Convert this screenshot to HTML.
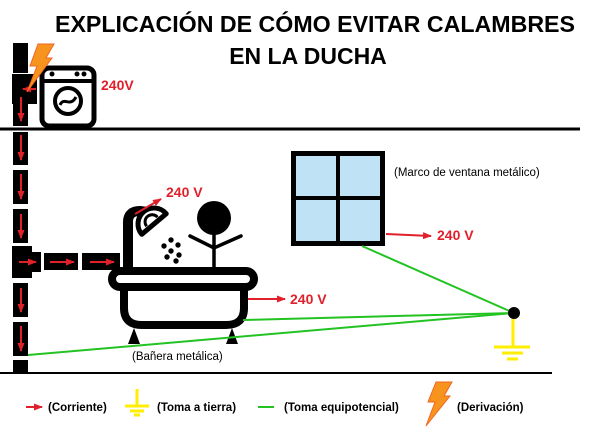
<!DOCTYPE html>
<html><head><meta charset="utf-8"><style>
html,body{margin:0;padding:0;background:#fff;}
svg{display:block;font-family:"Liberation Sans",sans-serif;}
</style></head><body>
<svg width="600" height="428" viewBox="0 0 600 428" xmlns="http://www.w3.org/2000/svg">
<defs>
<marker id="ah" markerWidth="9" markerHeight="7" refX="8" refY="3.5" orient="auto" markerUnits="userSpaceOnUse"><path d="M0,0 L9,3.5 L0,7 Z" fill="#e0202a"/></marker>
</defs>
<text x="315" y="32" text-anchor="middle" font-size="23" font-weight="bold" textLength="520" lengthAdjust="spacingAndGlyphs">EXPLICACIÓN DE CÓMO EVITAR CALAMBRES</text>
<text x="308" y="64" text-anchor="middle" font-size="23" font-weight="bold">EN LA DUCHA</text>

<line x1="0" y1="129" x2="580" y2="129" stroke="#000" stroke-width="3"/>
<line x1="0" y1="373" x2="552" y2="373" stroke="#000" stroke-width="2"/>

<g fill="#000">
<rect x="13" y="43" width="15" height="30"/>
<rect x="12" y="74" width="25" height="30"/>
<rect x="13" y="104" width="15" height="22"/>
<rect x="13" y="132" width="15" height="33"/>
<rect x="13" y="170" width="15" height="34"/>
<rect x="13" y="209" width="15" height="34"/>
<rect x="12" y="246" width="20" height="32"/>
<rect x="30" y="252" width="11" height="20"/>
<rect x="44" y="253" width="34" height="17"/>
<rect x="82" y="253" width="38" height="17"/>
<rect x="13" y="283" width="15" height="34"/>
<rect x="13" y="322" width="15" height="34"/>
<rect x="13" y="360" width="15" height="13"/>
</g>
<g stroke="#e0202a" stroke-width="2" marker-end="url(#ah)">
<line x1="36" y1="89" x2="23" y2="89"/>
<line x1="21" y1="97" x2="21" y2="121"/>
<line x1="21" y1="135" x2="21" y2="160"/>
<line x1="21" y1="174" x2="21" y2="199"/>
<line x1="21" y1="214" x2="21" y2="238"/>
<line x1="19" y1="262" x2="36" y2="262"/>
<line x1="50" y1="262" x2="74" y2="262"/>
<line x1="90" y1="262" x2="114" y2="262"/>
<line x1="21" y1="288" x2="21" y2="312"/>
<line x1="21" y1="326" x2="21" y2="351"/>
</g>

<rect x="42" y="68" width="52" height="58" rx="7" fill="none" stroke="#000" stroke-width="5"/>
<line x1="42" y1="81" x2="94" y2="81" stroke="#000" stroke-width="4"/>
<circle cx="52" cy="74" r="2.5"/><circle cx="77" cy="74" r="2.5"/><circle cx="84" cy="74" r="2.5"/>
<circle cx="68" cy="101" r="13" fill="none" stroke="#000" stroke-width="4"/>
<path d="M60,105 C64,96 70,108 76,97" fill="none" stroke="#000" stroke-width="3"/>
<path d="M38,44 L54,44 L46,58 L52,58 L27,92 L37,66 L30,66 Z" fill="#f7941d" stroke="#f26522" stroke-width="1"/>
<text x="101" y="90" font-size="14" font-weight="bold" fill="#e0202a">240V</text>

<g fill="none" stroke="#000" stroke-linecap="round">
<path d="M128,268 L128,222 Q128,211 140,211 L148,212" stroke-width="10"/>
<rect x="112" y="271" width="142" height="16" rx="8" stroke-width="8"/>
<path d="M124,291 L124,308 Q124,325 142,325 L226,325 Q244,325 244,308 L244,291" stroke-width="8"/>
</g>
<path d="M134,328 L128,344 L140,344 Z M232,328 L238,344 L226,344 Z" fill="#000"/>
<g transform="translate(154,224) rotate(-40)">
<path d="M-16,0 A16,16 0 0 1 16,0 Z" fill="#fff" stroke="#000" stroke-width="5" stroke-linejoin="round"/>
<path d="M-7,-3 A7,7 0 0 1 7,-3" fill="none" stroke="#000" stroke-width="3"/>
</g>
<g fill="#000">
<circle cx="171" cy="240" r="2.7"/><circle cx="178" cy="245" r="2.7"/>
<circle cx="164" cy="246" r="2.7"/><circle cx="171" cy="251" r="2.7"/><circle cx="179" cy="255" r="2.7"/>
<circle cx="167" cy="257" r="2.7"/><circle cx="176" cy="261" r="2.7"/>
</g>
<circle cx="214" cy="218" r="17" fill="#000"/>
<g stroke="#000" stroke-width="3.5" fill="none" stroke-linecap="round">
<line x1="214" y1="232" x2="214" y2="268"/>
<polyline points="190,236 214,248 241,236"/>
</g>

<rect x="291" y="151" width="94" height="95" fill="#000"/>
<rect x="296" y="156" width="40" height="40" fill="#bfe3f5"/>
<rect x="340" y="156" width="40" height="40" fill="#bfe3f5"/>
<rect x="296" y="200" width="40" height="41" fill="#bfe3f5"/>
<rect x="340" y="200" width="40" height="41" fill="#bfe3f5"/>
<text x="394" y="176" font-size="11.5">(Marco de ventana metálico)</text>

<g stroke="#22c322" stroke-width="2">
<line x1="362" y1="246" x2="514" y2="313"/>
<line x1="243" y1="320" x2="514" y2="313"/>
<line x1="28" y1="355" x2="514" y2="313"/>
</g>
<circle cx="514" cy="313" r="6" fill="#000"/>
<g stroke="#ffee00" stroke-width="3">
<line x1="513" y1="319" x2="513" y2="347"/>
<line x1="494" y1="347" x2="530" y2="347"/>
<line x1="502" y1="353" x2="523" y2="353"/>
<line x1="507" y1="359" x2="518" y2="359"/>
</g>

<g stroke="#e0202a" stroke-width="2" marker-end="url(#ah)">
<line x1="135" y1="214" x2="161" y2="199"/>
<line x1="248" y1="299" x2="285" y2="299"/>
<line x1="386" y1="234" x2="431" y2="236"/>
</g>
<g font-size="14" font-weight="bold" fill="#e0202a">
<text x="166" y="197">240 V</text>
<text x="290" y="304">240 V</text>
<text x="437" y="240">240 V</text>
</g>
<text x="132" y="360" font-size="11.5">(Bañera metálica)</text>

<line x1="26" y1="407" x2="42" y2="407" stroke="#e0202a" stroke-width="2" marker-end="url(#ah)"/>
<g font-size="11.5" font-weight="bold">
<text x="48" y="411">(Corriente)</text>
<text x="157" y="411">(Toma a tierra)</text>
<text x="284" y="411">(Toma equipotencial)</text>
<text x="457" y="411">(Derivación)</text>
</g>
<g stroke="#ffee00" stroke-width="3">
<line x1="137" y1="389" x2="137" y2="406"/>
<line x1="125" y1="406" x2="149" y2="406"/>
<line x1="130" y1="411" x2="144" y2="411"/>
<line x1="134" y1="415" x2="140" y2="415"/>
</g>
<line x1="258" y1="407" x2="274" y2="407" stroke="#22c322" stroke-width="2"/>
<path d="M436,382 L452,382 L444,396 L450,396 L426,426 L435,402 L428,402 Z" fill="#f7941d" stroke="#f26522" stroke-width="1"/>
</svg>
</body></html>
